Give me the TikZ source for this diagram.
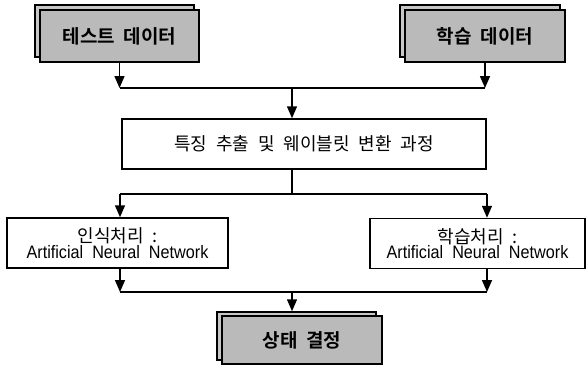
\documentclass[tikz,border=0pt]{standalone}
\usepackage{fontspec}
\setmainfont{Liberation Sans}
\newfontfamily\kr{Noto Sans CJK KR}[WordSpace=2.2]
\newfontfamily\krb{Noto Sans CJK KR Bold}[WordSpace=2]
\newfontfamily\en{Liberation Sans}[FakeStretch=0.9,WordSpace=2]
\usetikzlibrary{arrows.meta}
\begin{document}
\begin{tikzpicture}[x=1pt,y=-1pt,line width=1.5pt,
  arr/.style={-{Triangle[length=12pt,width=10pt]}},
  plainbox/.style={draw,fill=white,inner sep=0pt,align=center},
  backbox/.style={draw,fill=black!22,inner sep=0pt},
  frontbox/.style={draw,fill=black!27,inner sep=0pt,font=\krb\fontsize{19}{22}\selectfont},
  krtext/.style={font=\kr\fontsize{18}{22}\selectfont}]
\useasboundingbox (0,0) rectangle (588,367);
% input boxes
\node[backbox,minimum width=159pt,minimum height=52pt] (testb) at (114.5,31) {};
\node[frontbox,minimum width=159pt,minimum height=52pt] (test) at (119.5,36) {테스트 데이터};
\node[backbox,minimum width=160pt,minimum height=52pt] (learnb) at (480,31) {};
\node[frontbox,minimum width=160pt,minimum height=52pt] (learn) at (485,36) {학습 데이터};
% feature box
\node[plainbox,krtext,minimum width=364pt,minimum height=50pt] (feat) at (304,144) {특징 추출 및 웨이블릿 변환 과정};
% processing boxes
\node[plainbox,minimum width=221pt,minimum height=50pt] (rec) at (117.5,243)
  {{\kr\fontsize{18}{20}\selectfont 인식처리 :}\\[0pt]{\en\fontsize{18}{20}\selectfont Artificial Neural Network}};
\node[plainbox,minimum width=215pt,minimum height=50pt] (lrn) at (477.5,243.5)
  {{\kr\fontsize{18}{20}\selectfont 학습처리 :}\\[0pt]{\en\fontsize{18}{20}\selectfont Artificial Neural Network}};
% decision
\node[backbox,minimum width=159pt,minimum height=48pt] (decb) at (296.5,336) {};
\node[frontbox,minimum width=160pt,minimum height=48pt] (dec) at (302,340) {상태 결정};
% junction coordinates
\coordinate (j1l) at (120,88);
\coordinate (j1r) at (487,88);
\coordinate (j1c) at (292,88);
\coordinate (j2l) at (120,194);
\coordinate (j2r) at (487,194);
\coordinate (j2c) at (292,194);
\coordinate (j3l) at (120,292);
\coordinate (j3r) at (487,292);
\coordinate (j3c) at (292,292);
% connectors
\draw[arr] (test.south) -- (test.south |- j1l);
\draw[arr] (learn.south) -- (learn.south |- j1r);
\draw (test.south |- j1l) -- (learn.south |- j1r);
\draw[arr] (j1c) -- (j1c |- feat.north);
\draw (j1c |- feat.south) -- (j2c);
\draw (j2l) -- (j2r);
\draw[arr] (j2l) -- (j2l |- rec.north);
\draw[arr] (j2r) -- (j2r |- lrn.north);
\draw[arr] (j3l |- rec.south) -- (j3l);
\draw[arr] (j3r |- lrn.south) -- (j3r);
\draw (j3l) -- (j3r);
\draw[arr] (j3c) -- (j3c |- decb.north);
\end{tikzpicture}
\end{document}
